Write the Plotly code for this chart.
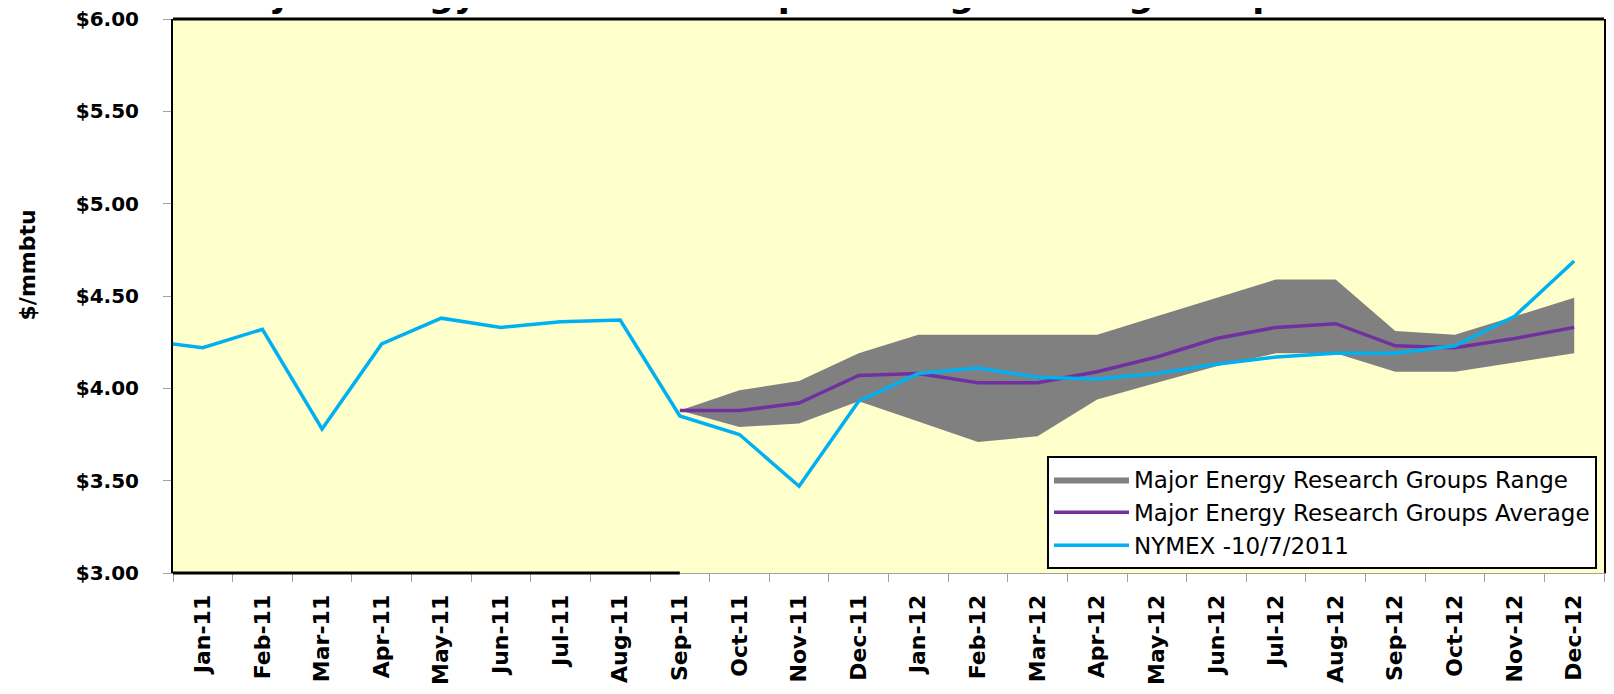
import plotly.graph_objects as go

months = ["Dec-10",
          "Jan-11", "Feb-11", "Mar-11", "Apr-11", "May-11", "Jun-11",
          "Jul-11", "Aug-11", "Sep-11", "Oct-11", "Nov-11", "Dec-11",
          "Jan-12", "Feb-12", "Mar-12", "Apr-12", "May-12", "Jun-12",
          "Jul-12", "Aug-12", "Sep-12", "Oct-12", "Nov-12", "Dec-12"]

nymex = [4.26,
         4.22, 4.32, 3.78, 4.24, 4.38, 4.33,
         4.36, 4.37, 3.85, 3.75, 3.47, 3.93,
         4.08, 4.11, 4.06, 4.05, 4.08, 4.13,
         4.17, 4.19, 4.19, 4.23, 4.39, 4.69]

avg = [None,
       None, None, None, None, None, None,
       None, None, 3.88, 3.88, 3.92, 4.07,
       4.08, 4.03, 4.03, 4.09, 4.17, 4.27,
       4.33, 4.35, 4.23, 4.22, 4.27, 4.33]

range_high = [None,
              None, None, None, None, None, None,
              None, None, 3.88, 3.99, 4.04, 4.19,
              4.29, 4.29, 4.29, 4.29, 4.39, 4.49,
              4.59, 4.59, 4.31, 4.29, 4.39, 4.49]

range_low = [None,
             None, None, None, None, None, None,
             None, None, 3.88, 3.79, 3.81, 3.93,
             3.82, 3.71, 3.74, 3.94, 4.03, 4.12,
             4.19, 4.19, 4.09, 4.09, 4.14, 4.19]

title_text = "Major Energy Research Groups Average & Range: September 2011"
y_title = "$/mmbtu"
names = ["Major Energy Research Groups Range",
         "Major Energy Research Groups Average",
         "NYMEX -10/7/2011"]

FONT = "DejaVu Sans"

fig = go.Figure()
fig.add_trace(go.Scatter(x=months, y=range_low, mode="lines",
                         line=dict(width=0, color="#808080"),
                         showlegend=False, hoverinfo="skip"))
fig.add_trace(go.Scatter(x=months, y=range_high, mode="lines",
                         line=dict(width=0, color="#808080"),
                         fill="tonexty", fillcolor="#808080",
                         name=names[0]))
fig.add_trace(go.Scatter(x=months, y=avg, mode="lines",
                         line=dict(width=3.5, color="#7030A0"),
                         name=names[1]))
fig.add_trace(go.Scatter(x=months, y=nymex, mode="lines",
                         line=dict(width=3.5, color="#00B0F0"),
                         name=names[2]))

# the page body adds an 8px margin; the figure is sized to fill the rest
fig.update_layout(
    width=1606, height=686,
    margin=dict(l=165, r=10, t=11, b=121),
    paper_bgcolor="white",
    plot_bgcolor="#FFFFCC",
    font=dict(family=FONT, color="black"),
    showlegend=True,
    legend=dict(x=0.9951, y=0.0072, xanchor="right", yanchor="bottom",
                bgcolor="white", bordercolor="black", borderwidth=2,
                font=dict(size=23, family=FONT, color="black"),
                itemwidth=75, tracegroupgap=0, traceorder="normal"),
    xaxis=dict(type="category", range=[0.5, 24.5], automargin=False,
               showline=True, linecolor="#A0A0A0", linewidth=1, mirror=False,
               ticks="outside", tickson="boundaries", ticklen=8, tickcolor="#A0A0A0",
               ticklabelstandoff=12, ticklabeloverflow="allow",
               tickangle=-90, showgrid=False, zeroline=False,
               tickfont=dict(size=22, family=FONT, color="black", weight="bold")),
    yaxis=dict(range=[3, 6], dtick=0.5, tickformat="$.2f", automargin=False,
               showline=True, linecolor="black", linewidth=2, mirror=True,
               ticks="outside", ticklen=8, tickcolor="#A0A0A0",
               ticklabelstandoff=20, ticklabeloverflow="allow",
               showgrid=False, zeroline=False,
               tickfont=dict(size=20, family=FONT, color="black", weight="bold")),
)

# frame: dark top border and dark left part of bottom border
fig.add_shape(type="line", xref="paper", yref="paper", x0=0, x1=1, y0=1, y1=1,
              line=dict(color="black", width=3))
fig.add_shape(type="line", xref="x", yref="paper", x0=0.5, x1=months.index("Sep-11"),
              y0=0, y1=0, line=dict(color="black", width=3))

# chart title (clipped at the top edge as in the source image)
fig.add_annotation(text="<b>" + title_text + "</b>",
                   xref="paper", yref="paper", x=0.4885, y=1.003,
                   xanchor="center", yanchor="bottom", showarrow=False,
                   font=dict(size=35, family=FONT, color="black"))

fig.add_annotation(text="<b>" + y_title + "</b>", textangle=-90,
                   xref="paper", yref="paper", x=-0.1010, y=0.556,
                   xanchor="center", yanchor="middle",
                   showarrow=False, font=dict(size=22, family=FONT, color="black"))

fig.write_html("out.html")
